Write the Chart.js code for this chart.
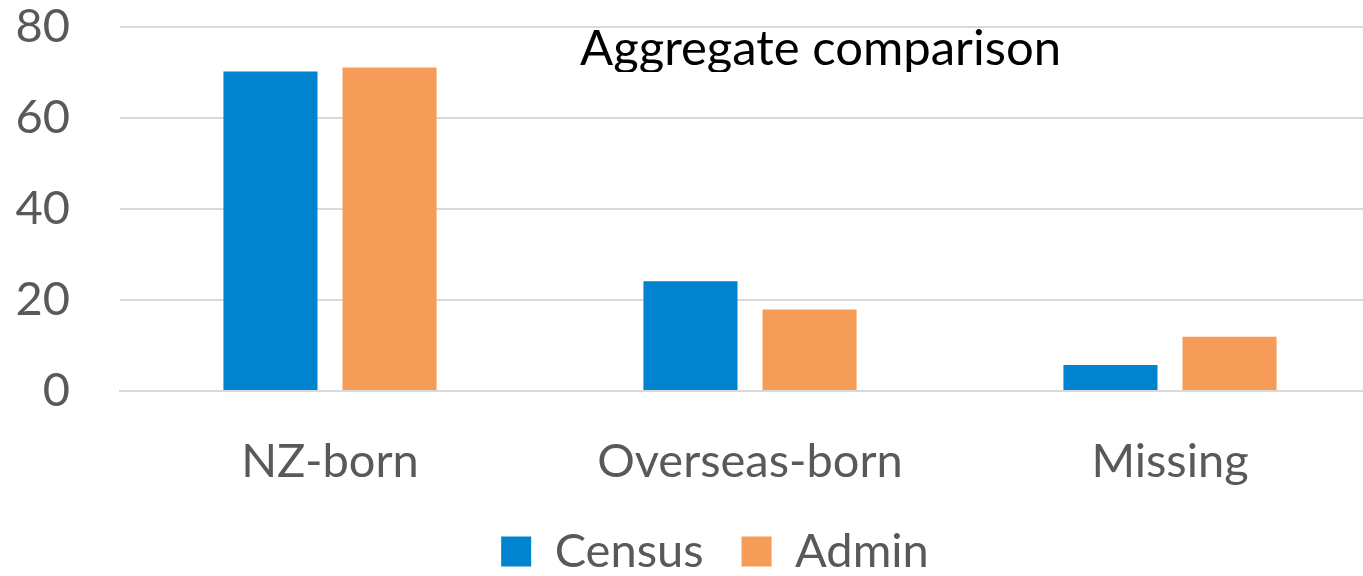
<!DOCTYPE html>
<html>
<head>
<meta charset="utf-8">
<script src="https://cdn.jsdelivr.net/npm/chart.js@4.4.0/dist/chart.umd.min.js"></script>
<style>
html,body{margin:0;padding:0;background:#fff;overflow:hidden;width:1363px;height:576px;}
#wrap{position:relative;width:1430px;height:576px;}
</style>
</head>
<body>
<div id="wrap"><canvas id="c"></canvas></div>
<script>
const categories = ['NZ-born', 'Overseas-born', 'Missing'];
const censusValues = [70.2, 24.1, 5.7];
const adminValues = [71.1, 17.9, 11.9];
const yTicks = [0, 20, 40, 60, 80];
const titleText = 'Aggregate comparison';

const FONT = 'Lato, "Open Sans", sans-serif';
const GREY = '#595959';

const titlePlugin = {
  id: 'insideTitle',
  afterDraw(chart) {
    const ctx = chart.ctx;
    const a = chart.chartArea;
    ctx.save();
    ctx.beginPath();
    ctx.rect(0, 0, chart.width, a.top + 45);
    ctx.clip();
    ctx.fillStyle = '#000';
    ctx.font = '49px ' + FONT;
    ctx.textAlign = 'center';
    ctx.textBaseline = 'alphabetic';
    ctx.fillText(titleText, a.left + (a.right - a.left) * 0.556, a.top + 38);
    ctx.restore();
  }
};

new Chart(document.getElementById('c'), {
  type: 'bar',
  data: {
    labels: categories,
    datasets: [
      { label: 'Census', data: censusValues, backgroundColor: '#0283CF', barPercentage: 0.79, categoryPercentage: 0.567 },
      { label: 'Admin', data: adminValues, backgroundColor: '#F69C59', barPercentage: 0.79, categoryPercentage: 0.567 }
    ]
  },
  options: {
    responsive: true,
    maintainAspectRatio: false,
    animation: false,
    layout: { padding: { top: 0, right: 50, left: 50, bottom: -9 } },
    plugins: {
      title: { display: false },
      tooltip: { enabled: false },
      legend: {
        position: 'bottom',
        labels: {
          font: { family: FONT, size: 47 },
          color: GREY,
          boxWidth: 30,
          boxHeight: 30,
          padding: 38
        }
      }
    },
    scales: {
      x: {
        afterFit(s) { s.height = 99; },
        grid: { display: false, drawTicks: false },
        border: { display: true, color: '#D9D9D9', width: 2 },
        ticks: { font: { family: FONT, size: 47 }, color: GREY, padding: 43, maxRotation: 0 }
      },
      y: {
        min: 0, max: 80,
        afterFit(s) {
          s.width = 70;
          s.paddingTop = 27;
          s.paddingBottom = 0;
          s._computeLabelArea = function () { return undefined; };
        },
        afterBuildTicks(s) { s.ticks = yTicks.map(v => ({ value: v })); },
        grid: { color: '#D9D9D9', lineWidth: 2, drawTicks: false },
        border: { display: false },
        ticks: { font: { family: FONT, size: 47 }, color: GREY, padding: 50 }
      }
    }
  },
  plugins: [titlePlugin]
});
</script>
</body>
</html>
